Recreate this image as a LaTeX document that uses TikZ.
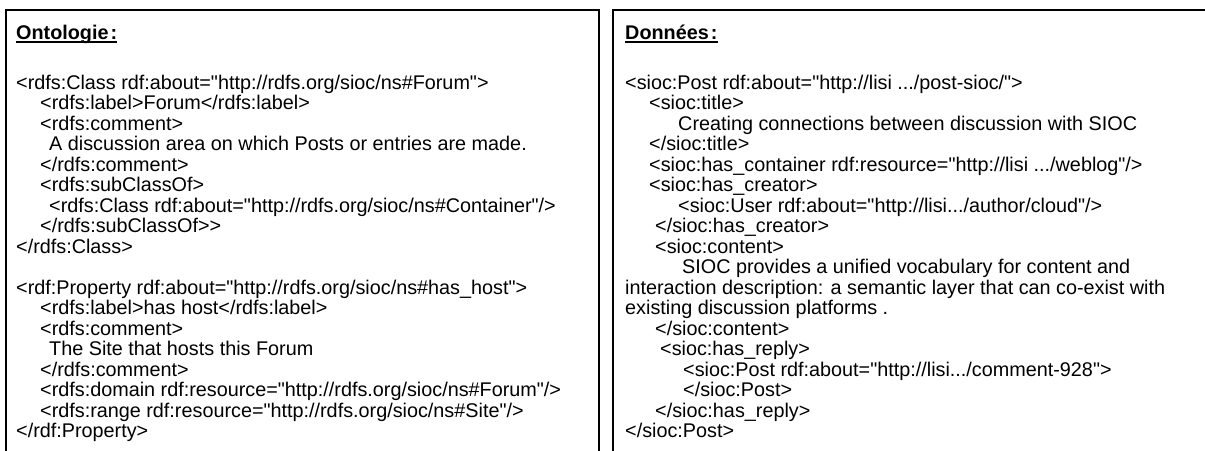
\documentclass[tikz,border=0pt]{standalone}
\usepackage{fontspec}
\setmainfont{Liberation Sans}[Ligatures=TeXOff]
\newcommand\codefont{\fontsize{19.8}{20.5}\selectfont}
\begin{document}
\begin{tikzpicture}[x=1pt,y=-1pt,
  boxline/.style={line width=1.8pt,draw=black},
  codeline/.style={anchor=base west,inner sep=0pt,font=\codefont},
  titleline/.style={anchor=base west,inner sep=0pt,font=\codefont\bfseries}]
\useasboundingbox (0,0) rectangle (1205,450);
% boxes
\draw[boxline] (6,452) -- (6,10) -- (599,10) -- (599,452);
\draw[boxline] (613,452) -- (613,10) -- (1210,10);
% left box
\node[titleline] (lt) at (16,39) {Ontologie\kern2pt:};
\draw[line width=1.3pt] ([yshift=-3pt]lt.base west) -- ([yshift=-3pt]lt.base east);
\node[codeline] (l1)  at (16,89)    {<rdfs:Class rdf:about="http://rdfs.org/sioc/ns\#Forum">};
\node[codeline] (l2)  at (40,109.5) {<rdfs:label>Forum</rdfs:label>};
\node[codeline] (l3)  at (40,130)   {<rdfs:comment>};
\node[codeline] (l4)  at (49,150.5) {A discussion area on which Posts or entries are made.};
\node[codeline] (l5)  at (40,171)   {</rdfs:comment>};
\node[codeline] (l6)  at (40,191.5) {<rdfs:subClassOf>};
\node[codeline] (l7)  at (49,212)   {<rdfs:Class rdf:about="http://rdfs.org/sioc/ns\#Container"/>};
\node[codeline] (l8)  at (40,232.5) {</rdfs:subClassOf>>};
\node[codeline] (l9)  at (16,253)   {</rdfs:Class>};
\node[codeline] (l11) at (16,294)   {<rdf:Property rdf:about="http://rdfs.org/sioc/ns\#has\_host">};
\node[codeline] (l12) at (40,314.5) {<rdfs:label>has host</rdfs:label>};
\node[codeline] (l13) at (40,335)   {<rdfs:comment>};
\node[codeline] (l14) at (49,355.5) {The Site that hosts this Forum};
\node[codeline] (l15) at (40,376)   {</rdfs:comment>};
\node[codeline] (l16) at (40,396.5) {<rdfs:domain rdf:resource="http://rdfs.org/sioc/ns\#Forum"/>};
\node[codeline] (l17) at (40,417)   {<rdfs:range rdf:resource="http://rdfs.org/sioc/ns\#Site"/>};
\node[codeline] (l18) at (16,437.5) {</rdf:Property>};
% right box
\node[titleline] (rt) at (625,39) {Données\kern2pt:};
\draw[line width=1.3pt] ([yshift=-3pt]rt.base west) -- ([yshift=-3pt]rt.base east);
\node[codeline] (r1)  at (625,89)    {<sioc:Post rdf:about="http://lisi .../post-sioc/">};
\node[codeline] (r2)  at (649,109.5) {<sioc:title>};
\node[codeline] (r3)  at (678,130)   {Creating connections between discussion with SIOC};
\node[codeline] (r4)  at (649,150.5) {</sioc:title>};
\node[codeline] (r5)  at (649,171)   {<sioc:has\_container rdf:resource="http://lisi .../weblog"/>};
\node[codeline] (r6)  at (649,191.5) {<sioc:has\_creator>};
\node[codeline] (r7)  at (678,212)   {<sioc:User rdf:about="http://lisi.../author/cloud"/>};
\node[codeline] (r8)  at (655,232.5) {</sioc:has\_creator>};
\node[codeline] (r9)  at (655,253)   {<sioc:content>};
\node[codeline] (r10) at (682,273.5) {SIOC provides a unified vocabulary for content and};
\node[codeline] (r11) at (625,294)   {interaction description: a semantic layer that can co-exist with};
\node[codeline] (r12) at (625,314.5) {existing discussion platforms .};
\node[codeline] (r13) at (655,335)   {</sioc:content>};
\node[codeline] (r14) at (660,355.5) {<sioc:has\_reply>};
\node[codeline] (r15) at (683,376)   {<sioc:Post rdf:about="http://lisi.../comment-928">};
\node[codeline] (r16) at (683,396.5) {</sioc:Post>};
\node[codeline] (r17) at (655,417)   {</sioc:has\_reply>};
\node[codeline] (r18) at (625,437.5) {</sioc:Post>};
\end{tikzpicture}
\end{document}
